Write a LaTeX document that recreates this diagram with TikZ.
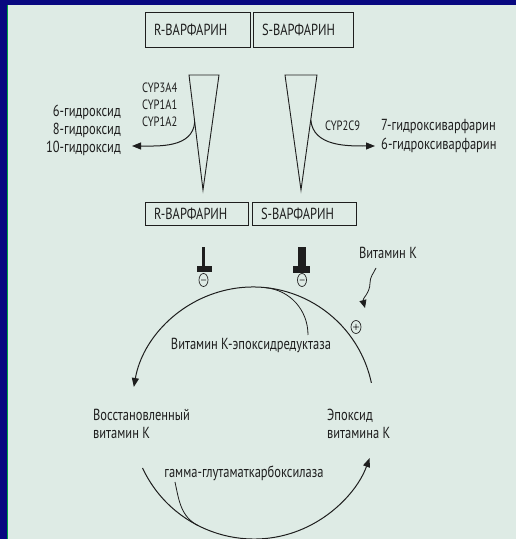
\documentclass[tikz,border=0pt]{standalone}
\usepackage{fontspec}
\setmainfont{PT Sans}[FakeStretch=0.78]
\usepackage{tikz}
\usetikzlibrary{arrows.meta,calc}
\definecolor{framenavy}{RGB}{8,8,128}
\definecolor{panel}{RGB}{222,235,229}
\definecolor{frameline}{RGB}{0,160,70}
\definecolor{ink}{RGB}{30,30,30}

\begin{document}
\begin{tikzpicture}[x=1pt,y=1pt,>={Triangle[length=9pt,width=7pt]}]
            \tikzstyle{drug}=[draw=ink, line width=0.9pt, inner xsep=9pt, inner ysep=0pt, align=left, font=\fontsize{16}{16}\selectfont, text=ink]
            \tikzstyle{txt}=[inner sep=0pt, text=ink, font=\fontsize{16}{18}\selectfont]
            \tikzstyle{small}=[inner sep=0pt, text=ink, font=\fontsize{13.5}{17}\selectfont]
            \tikzstyle{wedge}=[draw=ink, line width=0.9pt]
            \tikzstyle{flow}=[draw=ink, line width=1pt]
            % frame
            \useasboundingbox (0,0) rectangle (516,539);
            \fill[framenavy] (0,0) rectangle (516,539);
            \fill[panel] (8,0) rectangle (516,534);
            \draw[frameline, line width=1.3pt] (7.6,0) -- (7.6,534);
            % warfarin boxes
            \node[drug, minimum height=35pt, text width=87pt] (rtop) at (197.5,509.5) {R-ВАРФАРИН};
            \node[drug, minimum height=35pt, text width=82pt] (stop) at (303,509.5) {S-ВАРФАРИН};
            \node[drug, minimum height=23pt, text width=85pt] (rbot) at (196.5,325.5) {R-ВАРФАРИН};
            \node[drug, minimum height=23pt, text width=86pt] (sbot) at (304,325.5) {S-ВАРФАРИН};
            % wedges
            \coordinate (ra) at (189,464);
            \coordinate (rb) at (219,464);
            \coordinate (rc) at (203,349);
            \coordinate (sa) at (285,464);
            \coordinate (sb) at (317,464);
            \coordinate (sc) at (301,349);
            \draw[wedge] (ra) -- (rb) -- (rc) -- cycle;
            \draw[wedge] (sa) -- (sb) -- (sc) -- cycle;
            % metabolism
            \node[small, anchor=west, align=left] (rcyp) at (142,434) {CYP3A4\\CYP1A1\\CYP1A2};
            \node[small, anchor=west] (scyp) at (325,413) {CYP2C9};
            \node[txt, anchor=east, align=right] (rprod) at (121,408.5) {6-гидроксид\\8-гидроксид\\10-гидроксид};
            \node[txt, anchor=west, align=left, font=\fontsize{16}{19}\selectfont] (sprod) at (381,402.5) {7-гидроксиварфарин\\6-гидроксиварфарин};
            \coordinate (rout) at ($(ra)!0.41!(rc)$);
            \coordinate (sout) at ($(sb)!0.39!(sc)$);
            \coordinate (rtip) at (132,393);
            \coordinate (stip) at (375,393);
            \draw[flow, ->] (rout) to[out=-95,in=0] (rtip);
            \draw[flow, ->] (sout) to[out=-85,in=180] (stip);
            % inhibition
            \fill[ink] (202,273) rectangle (204.5,292);
            \fill[ink] (197,267) rectangle (212,273);
            \fill[ink] (298,273) rectangle (306,292);
            \fill[ink] (293,266) rectangle (310,273);
            \coordinate (rminus) at (203.5,259);
            \coordinate (sminus) at (302,259);
            \coordinate (kplus) at (356,212);
            \draw[ink, line width=0.7pt] (rminus) ellipse (4.5 and 6.5) ($(rminus)+(-2.5,0)$) -- ($(rminus)+(2.5,0)$);
            \draw[ink, line width=0.7pt] (sminus) ellipse (4.5 and 6.5) ($(sminus)+(-2.5,0)$) -- ($(sminus)+(2.5,0)$);
            \draw[ink, line width=0.7pt] (kplus) ellipse (5 and 6.5) ($(kplus)+(-3,0)$) -- ($(kplus)+(3,0)$) ($(kplus)+(0,-3)$) -- ($(kplus)+(0,3)$);
            % vitamin K cycle
            \coordinate (ctop) at (253,131);
            \coordinate (cbot) at (254,123);
            \draw[flow, ->] ([shift={(12:121)}]ctop) arc[start angle=12, end angle=170, radius=121];
            \draw[flow, ->] ([shift={(205:123)}]cbot) arc[start angle=205, end angle=340, radius=123];
            \node[txt] (vk) at (388,286) {Витамин К};
            \node[txt] (vkor) at (251,194) {Витамин К-эпоксидредуктаза};
            \node[txt, anchor=west, align=left] (reduced) at (93,115) {Восстановленный\\витамин К};
            \node[txt, anchor=west, align=left] (epox) at (327,115) {Эпоксид\\витамина К};
            \node[txt] (ggcx) at (244,66) {гамма-глутаматкарбоксилаза};
            \coordinate (vkorend) at (308,204);
            \coordinate (ggcxstart) at (175,57);
            \draw[flow, line width=0.8pt] ([shift={(84:121)}]ctop) to[out=-6,in=90] (vkorend);
            \draw[flow, line width=0.8pt] (ggcxstart) to[out=-78,in=153] ([shift={(243:123)}]cbot);
            \coordinate (vkstart) at (376,271);
            \coordinate (vktip) at (365,231);
            \draw[flow, line width=0.8pt, -{Triangle[length=8pt,width=7pt]}] (vkstart) to[out=-115,in=90] (370,256) to[out=-90,in=105] (vktip);
        \end{tikzpicture}
\end{document}
